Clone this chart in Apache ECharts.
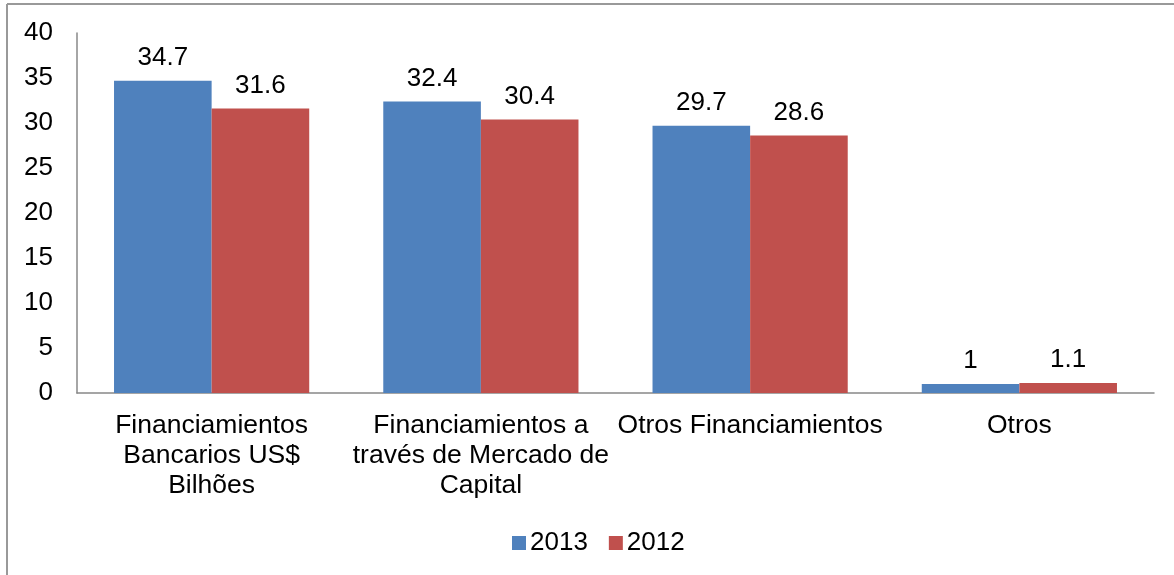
<!DOCTYPE html>
<html>
<head>
<meta charset="utf-8">
<script src="https://cdn.jsdelivr.net/npm/echarts@6/dist/echarts.min.js"></script>
<style>
  html, body { margin: 0; padding: 0; background: #fff; }
  #chart { width: 1174px; height: 575px; }
</style>
</head>
<body>
<div id="chart"></div>
<script>
const categories = [
  'Financiamientos\nBancarios US$\nBilhões',
  'Financiamientos a\ntravés de Mercado de\nCapital',
  'Otros Financiamientos',
  'Otros'
]
const values2013 = [34.7, 32.4, 29.7, 1]
const values2012 = [31.6, 30.4, 28.6, 1.1]
const yTicks = { min: 0, max: 40, interval: 5 }

const font = 'Arial, "Liberation Sans", sans-serif'
const chart = echarts.init(document.getElementById('chart'))

const barLabel = {
  show: true,
  position: 'top',
  distance: 10,
  color: '#000',
  fontSize: 26,
  fontFamily: font
}

chart.setOption({
  animation: false,
  backgroundColor: '#fff',
  graphic: [
    { type: 'line', shape: { x1: 7, y1: 4, x2: 1174, y2: 4 }, style: { stroke: '#999', lineWidth: 2 } },
    { type: 'line', shape: { x1: 7, y1: 4, x2: 7, y2: 575 }, style: { stroke: '#999', lineWidth: 2 } }
  ],
  grid: { left: 77, right: 20, top: 33, bottom: 182 },
  legend: {
    data: ['2013', '2012'],
    top: 525,
    left: 507,
    itemWidth: 14,
    itemHeight: 14,
    itemGap: 21,
    icon: 'rect',
    textStyle: { color: '#000', fontSize: 26, fontFamily: font, padding: [0, 0, 0, -1] }
  },
  xAxis: {
    type: 'category',
    data: categories,
    axisLine: { lineStyle: { color: '#888', width: 1.5 } },
    axisTick: { show: false },
    axisLabel: {
      color: '#000',
      fontSize: 26.5,
      fontFamily: font,
      lineHeight: 30,
      margin: 18,
      interval: 0
    }
  },
  yAxis: {
    type: 'value',
    min: yTicks.min,
    max: yTicks.max,
    interval: yTicks.interval,
    axisLine: { show: true, lineStyle: { color: '#888', width: 1.5 } },
    axisTick: { show: false },
    splitLine: { show: false },
    axisLabel: { color: '#000', fontSize: 26, fontFamily: font, margin: 24 }
  },
  series: [
    {
      name: '2013',
      type: 'bar',
      data: values2013,
      barGap: '0%',
      barCategoryGap: '27.5%',
      itemStyle: { color: '#4F81BD' },
      label: barLabel
    },
    {
      name: '2012',
      type: 'bar',
      data: values2012,
      itemStyle: { color: '#C0504D' },
      label: barLabel
    }
  ]
})
</script>
</body>
</html>
